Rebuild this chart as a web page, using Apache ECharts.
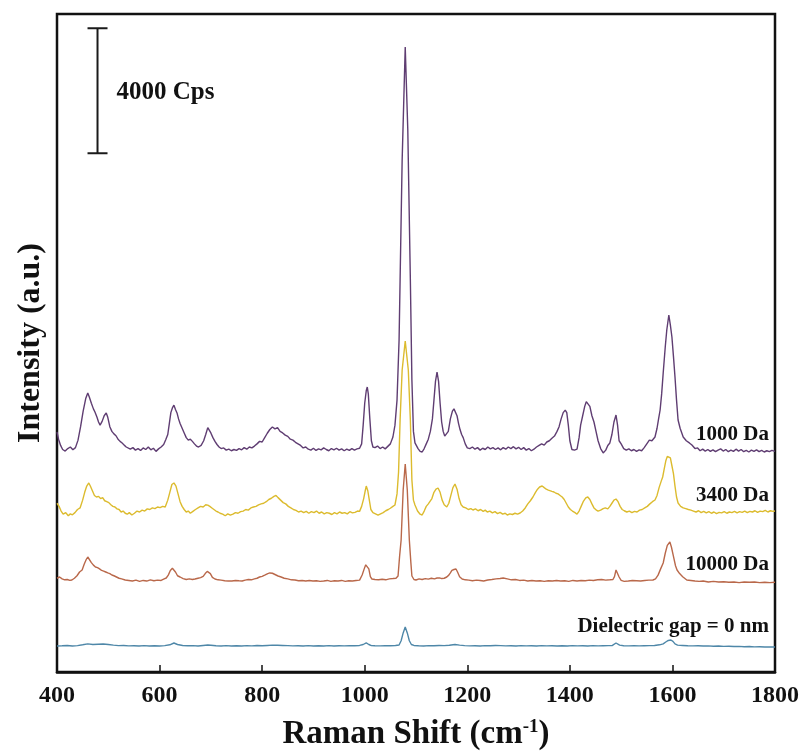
<!DOCTYPE html>
<html>
<head>
<meta charset="utf-8">
<script src="https://cdn.jsdelivr.net/npm/echarts@6/dist/echarts.min.js"></script>
<style>html,body{margin:0;padding:0;background:#fff}#c{width:801px;height:752px}</style>
</head>
<body>
<div id="c"></div>
<script>
// ---- data (x: Raman shift / cm-1, y: intensity / cps, stacked offsets included as read) ----
var xTicks = [400, 600, 800, 1000, 1200, 1400, 1600, 1800];
var seriesNames = ['1000 Da', '3400 Da', '10000 Da', 'Dielectric gap = 0 nm'];
var scaleBar = [[479, 16600, 20600]]; // 4000 Cps bar
var scaleBarLabel = '4000 Cps';

var da1000 = [[400,7680],[403,7450],[407,7250],[411,7120],[416,7070],[421,7150],[426,7200],[431,7110],[436,7180],[441,7420],[446,7850],[451,8350],[456,8750],[460,8930],[463,8800],[467,8600],[471,8420],[474,8320],[478,8150],[481,8000],[484,7900],[488,8020],[492,8200],[496,8290],[499,8150],[503,7850],[507,7700],[511,7620],[515,7560],[519,7450],[523,7380],[527,7330],[531,7260],[535,7200],[538,7170],[543,7130],[548,7180],[553,7100],[558,7150],[563,7090],[568,7170],[573,7120],[578,7200],[583,7110],[588,7160],[593,7060],[598,7140],[603,7200],[608,7280],[612,7430],[616,7600],[619,7950],[622,8300],[625,8450],[628,8540],[631,8400],[634,8290],[637,8100],[640,7950],[644,7800],[648,7650],[652,7500],[656,7420],[660,7450],[664,7380],[668,7300],[672,7230],[676,7200],[681,7250],[686,7400],[690,7600],[694,7820],[697,7840],[700,7650],[704,7500],[708,7380],[712,7280],[716,7200],[720,7150],[725,7170],[730,7100],[735,7130],[740,7080],[745,7120],[750,7090],[755,7150],[760,7110],[765,7180],[770,7130],[775,7200],[780,7170],[785,7230],[790,7300],[795,7380],[800,7360],[805,7500],[810,7640],[815,7760],[820,7840],[825,7780],[830,7820],[835,7700],[840,7650],[845,7580],[850,7540],[855,7450],[860,7420],[865,7350],[870,7300],[875,7250],[880,7170],[885,7200],[890,7130],[895,7100],[900,7160],[905,7090],[910,7140],[915,7110],[920,7170],[925,7120],[930,7080],[935,7150],[940,7110],[945,7160],[950,7100],[955,7140],[960,7080],[965,7130],[970,7090],[975,7150],[980,7100],[985,7140],[990,7160],[994,7300],[997,7900],[1000,8600],[1003,9000],[1005,9120],[1007,8900],[1010,8100],[1013,7400],[1016,7200],[1020,7180],[1025,7230],[1030,7150],[1035,7200],[1040,7140],[1045,7220],[1050,7300],[1055,7520],[1059,7900],[1063,8700],[1067,10624],[1069,12544],[1073,16384],[1079,20000],[1084,17344],[1089,12544],[1092,9344],[1095,7700],[1098,7330],[1104,7150],[1108,7060],[1112,7040],[1116,7150],[1120,7300],[1124,7450],[1128,7700],[1132,8100],[1135,8700],[1138,9300],[1141,9600],[1144,9300],[1147,8600],[1150,8000],[1153,7700],[1156,7550],[1159,7520],[1163,7700],[1167,8100],[1171,8350],[1174,8420],[1177,8380],[1180,8200],[1183,7950],[1186,7750],[1189,7600],[1192,7500],[1196,7300],[1200,7170],[1205,7150],[1210,7200],[1215,7130],[1220,7180],[1225,7100],[1230,7160],[1235,7120],[1240,7200],[1245,7140],[1250,7180],[1255,7120],[1260,7170],[1265,7110],[1270,7180],[1275,7130],[1280,7200],[1285,7150],[1290,7210],[1295,7140],[1300,7190],[1305,7120],[1310,7180],[1315,7100],[1320,7150],[1325,7080],[1330,7130],[1335,7200],[1340,7250],[1345,7300],[1350,7260],[1355,7360],[1360,7400],[1365,7480],[1370,7550],[1375,7700],[1379,7850],[1383,8100],[1387,8300],[1391,8380],[1394,8300],[1397,7900],[1400,7400],[1404,7120],[1409,7100],[1414,7130],[1418,7500],[1421,7900],[1425,8200],[1429,8500],[1432,8650],[1435,8700],[1439,8500],[1443,8200],[1447,8000],[1451,7700],[1455,7400],[1460,7150],[1465,7010],[1470,7100],[1474,7250],[1478,7330],[1482,7600],[1486,8000],[1490,8224],[1493,7900],[1496,7400],[1500,7300],[1505,7150],[1510,7100],[1515,7140],[1520,7080],[1525,7120],[1530,7060],[1535,7110],[1540,7080],[1545,7180],[1550,7300],[1555,7420],[1560,7400],[1566,7520],[1570,7800],[1573,8100],[1576,8384],[1579,8900],[1582,9568],[1586,10400],[1589,10944],[1593,11424],[1596,11100],[1599,10720],[1602,10100],[1605,9440],[1608,8700],[1611,8064],[1615,7800],[1621,7520],[1627,7400],[1633,7330],[1638,7264],[1644,7150],[1649,7170],[1654,7080],[1659,7130],[1664,7070],[1669,7120],[1674,7060],[1679,7110],[1684,7050],[1689,7100],[1694,7140],[1699,7070],[1704,7120],[1709,7050],[1714,7100],[1719,7060],[1724,7130],[1729,7070],[1734,7120],[1739,7050],[1744,7090],[1749,7040],[1754,7100],[1759,7060],[1764,7110],[1769,7050],[1774,7090],[1779,7040],[1784,7080],[1789,7050],[1794,7090],[1800,7060]];

var da3400 = [[400,5400],[404,5300],[408,5150],[412,5050],[417,5100],[422,5000],[426,5060],[430,5030],[435,5100],[440,5200],[445,5250],[450,5500],[454,5750],[458,5950],[462,6050],[465,5950],[469,5800],[473,5650],[477,5600],[481,5620],[485,5550],[489,5580],[493,5480],[497,5450],[501,5420],[505,5350],[509,5300],[513,5280],[517,5220],[521,5200],[525,5120],[529,5150],[533,5080],[537,5050],[541,5100],[546,5024],[551,5080],[556,5150],[561,5120],[566,5180],[571,5150],[576,5220],[581,5200],[586,5250],[591,5230],[596,5280],[601,5260],[606,5300],[611,5280],[616,5500],[620,5750],[624,6000],[628,6050],[632,5950],[636,5700],[640,5450],[644,5300],[648,5200],[652,5120],[656,5150],[660,5080],[665,5140],[670,5200],[675,5250],[680,5300],[685,5280],[690,5350],[694,5340],[698,5300],[702,5250],[706,5200],[710,5150],[714,5120],[718,5080],[723,5050],[728,5000],[733,5060],[738,5020],[743,5050],[748,5100],[753,5080],[758,5130],[763,5150],[768,5200],[773,5180],[778,5250],[783,5280],[788,5300],[793,5350],[798,5380],[803,5400],[808,5450],[813,5520],[818,5560],[823,5620],[827,5650],[831,5580],[836,5500],[841,5420],[846,5380],[851,5300],[856,5250],[861,5200],[866,5170],[871,5120],[876,5150],[881,5100],[886,5140],[891,5080],[896,5130],[901,5100],[906,5150],[911,5080],[916,5120],[921,5060],[926,5100],[931,5080],[936,5040],[941,5100],[946,5060],[951,5120],[956,5080],[961,5100],[966,5060],[971,5130],[976,5090],[981,5110],[986,5150],[990,5140],[994,5300],[998,5550],[1001,5800],[1003,5950],[1006,5800],[1009,5500],[1012,5200],[1016,5100],[1021,5060],[1026,5020],[1031,5060],[1036,5100],[1041,5160],[1046,5200],[1050,5240],[1055,5300],[1059,5344],[1063,5700],[1066,6400],[1069,8064],[1073,9664],[1079,10592],[1085,9664],[1089,8064],[1092,6144],[1095,5500],[1098,5344],[1103,5150],[1108,5050],[1112,5024],[1116,5150],[1120,5300],[1124,5380],[1127,5408],[1131,5550],[1135,5750],[1139,5850],[1143,5888],[1147,5750],[1151,5500],[1155,5350],[1160,5280],[1164,5400],[1168,5650],[1172,5900],[1176,6016],[1180,5850],[1184,5550],[1188,5350],[1192,5280],[1197,5250],[1202,5200],[1207,5230],[1211,5184],[1216,5220],[1221,5160],[1226,5200],[1231,5140],[1235,5180],[1239,5120],[1244,5150],[1249,5090],[1254,5130],[1259,5070],[1264,5110],[1269,5050],[1274,5080],[1278,5024],[1283,5060],[1288,5040],[1293,5080],[1298,5050],[1303,5088],[1308,5150],[1313,5250],[1318,5380],[1323,5480],[1328,5600],[1333,5750],[1337,5850],[1341,5920],[1346,5952],[1350,5900],[1354,5850],[1358,5820],[1361,5824],[1365,5780],[1369,5760],[1373,5720],[1377,5700],[1381,5650],[1385,5600],[1389,5520],[1393,5400],[1397,5280],[1401,5200],[1405,5150],[1410,5100],[1414,5050],[1418,5150],[1422,5300],[1426,5450],[1431,5570],[1435,5600],[1439,5520],[1443,5380],[1447,5250],[1451,5190],[1455,5150],[1460,5180],[1465,5230],[1469,5250],[1474,5220],[1478,5300],[1482,5400],[1486,5500],[1490,5536],[1494,5450],[1498,5300],[1502,5200],[1506,5160],[1511,5120],[1516,5150],[1521,5100],[1526,5140],[1531,5120],[1536,5180],[1541,5200],[1546,5250],[1551,5300],[1556,5380],[1561,5450],[1566,5504],[1570,5650],[1574,5900],[1578,6100],[1581,6240],[1584,6500],[1587,6750],[1590,6900],[1593,6944],[1596,6850],[1599,6600],[1602,6350],[1605,5950],[1608,5600],[1611,5408],[1616,5300],[1621,5250],[1626,5230],[1631,5200],[1636,5180],[1641,5150],[1646,5120],[1651,5160],[1656,5100],[1661,5140],[1666,5090],[1671,5130],[1676,5080],[1681,5120],[1686,5070],[1691,5110],[1696,5090],[1701,5130],[1706,5080],[1711,5120],[1716,5100],[1721,5140],[1726,5090],[1731,5130],[1736,5110],[1741,5150],[1746,5100],[1751,5140],[1756,5120],[1761,5160],[1766,5110],[1771,5150],[1776,5130],[1781,5170],[1786,5120],[1791,5160],[1796,5140],[1800,5150]];

var da10000 = [[400,3000],[405,3040],[410,2980],[415,2950],[420,2960],[425,2930],[429,2944],[434,3000],[439,3080],[444,3200],[449,3264],[453,3450],[457,3600],[460,3680],[463,3620],[467,3500],[471,3420],[475,3360],[479,3340],[483,3300],[487,3250],[491,3230],[495,3200],[499,3170],[503,3150],[507,3104],[511,3080],[516,3040],[521,3000],[526,2980],[533,2944],[540,2930],[547,2912],[554,2940],[561,2900],[568,2930],[575,2910],[582,2950],[589,2920],[596,2940],[603,2930],[609,2980],[613,3008],[617,3100],[621,3250],[625,3320],[628,3330],[631,3200],[635,3080],[640,3040],[646,2990],[652,2960],[658,2980],[664,2960],[669,2976],[675,3000],[680,3020],[685,3060],[689,3150],[693,3220],[696,3240],[699,3150],[703,3030],[708,2976],[714,2950],[720,2940],[727,2920],[734,2910],[741,2912],[748,2930],[755,2920],[761,2912],[767,2940],[773,2960],[779,2950],[785,2980],[790,3000],[795,3040],[800,3060],[805,3100],[811,3150],[815,3170],[820,3160],[825,3120],[831,3072],[837,3040],[843,3000],[850,2980],[857,2950],[864,2944],[871,2920],[878,2930],[885,2912],[892,2930],[899,2910],[906,2920],[913,2900],[920,2912],[927,2930],[934,2900],[941,2920],[948,2910],[955,2930],[962,2900],[969,2920],[976,2912],[983,2930],[990,2940],[995,3104],[999,3300],[1002,3430],[1005,3488],[1008,3300],[1011,3050],[1014,2976],[1020,2960],[1027,2950],[1034,2970],[1041,2950],[1048,2980],[1055,2990],[1061,3000],[1065,3072],[1068,3700],[1071,4224],[1075,5824],[1079,6656],[1083,5824],[1087,4224],[1090,3500],[1092,3072],[1096,2960],[1100,2944],[1106,2980],[1112,2960],[1118,2990],[1124,2970],[1130,3000],[1136,2980],[1141,3008],[1146,3010],[1150,2990],[1155,3000],[1160,3040],[1164,3100],[1167,3170],[1170,3250],[1174,3280],[1178,3296],[1181,3200],[1185,3050],[1190,2976],[1196,2950],[1203,2940],[1210,2920],[1218,2940],[1225,2930],[1232,2912],[1240,2944],[1248,2960],[1256,2980],[1264,2990],[1270,3008],[1278,2980],[1286,2950],[1294,2960],[1302,2930],[1310,2940],[1318,2912],[1326,2930],[1334,2912],[1342,2920],[1350,2900],[1358,2920],[1366,2910],[1374,2930],[1382,2912],[1390,2920],[1398,2900],[1406,2930],[1414,2912],[1422,2930],[1430,2920],[1438,2940],[1446,2930],[1454,2950],[1462,2960],[1470,2940],[1478,2950],[1484,2960],[1487,3050],[1490,3264],[1493,3200],[1496,3040],[1500,2930],[1506,2900],[1514,2912],[1522,2930],[1530,2920],[1538,2910],[1546,2930],[1554,2940],[1562,2944],[1567,2980],[1572,3100],[1577,3300],[1582,3488],[1586,3800],[1590,4050],[1595,4160],[1598,4000],[1602,3700],[1606,3400],[1609,3264],[1614,3150],[1620,3050],[1628,2944],[1636,2930],[1644,2912],[1652,2900],[1660,2912],[1670,2880],[1680,2900],[1690,2880],[1700,2890],[1710,2870],[1720,2880],[1730,2860],[1740,2880],[1750,2870],[1760,2880],[1770,2860],[1780,2870],[1790,2860],[1800,2870]];

var gap0 = [[400,832],[410,840],[420,850],[430,830],[440,845],[450,870],[460,900],[470,880],[480,890],[490,896],[500,880],[510,860],[520,845],[530,850],[540,835],[550,840],[560,830],[570,845],[580,830],[590,840],[600,832],[610,845],[620,870],[628,928],[635,880],[645,850],[655,840],[665,845],[675,830],[685,850],[694,864],[700,855],[710,840],[720,832],[730,845],[740,830],[750,840],[760,830],[770,845],[780,835],[790,850],[800,840],[810,850],[820,860],[830,855],[840,850],[850,845],[860,835],[870,840],[880,830],[890,845],[900,830],[910,840],[920,832],[930,845],[940,830],[950,840],[960,835],[970,845],[980,840],[990,850],[997,880],[1003,930],[1008,880],[1013,845],[1020,840],[1030,835],[1040,845],[1050,840],[1060,850],[1067,864],[1071,1000],[1075,1250],[1079,1440],[1083,1250],[1087,1000],[1091,880],[1096,850],[1105,840],[1115,832],[1125,845],[1135,840],[1145,850],[1155,845],[1165,855],[1176,880],[1185,860],[1195,845],[1205,835],[1215,840],[1225,830],[1235,845],[1245,840],[1255,850],[1265,845],[1275,835],[1285,840],[1295,830],[1305,845],[1315,835],[1325,840],[1335,830],[1345,845],[1355,835],[1365,840],[1375,830],[1385,840],[1395,830],[1405,845],[1415,835],[1425,840],[1435,830],[1445,845],[1455,835],[1465,840],[1475,845],[1483,850],[1490,928],[1497,860],[1505,840],[1515,835],[1525,845],[1535,835],[1545,840],[1555,845],[1565,850],[1575,870],[1582,900],[1587,960],[1592,1010],[1597,1024],[1601,980],[1605,900],[1610,860],[1620,850],[1630,840],[1640,835],[1650,840],[1660,830],[1670,835],[1680,825],[1690,830],[1700,820],[1710,825],[1720,815],[1730,820],[1740,810],[1750,815],[1760,805],[1770,810],[1780,800],[1790,805],[1800,800]];

var seriesData = [da1000, da3400, da10000, gap0];
var colors = ['#5f3d72', '#dcbb2e', '#b9684a', '#4e87a8'];

var FONT = '"Liberation Serif", "Times New Roman", serif';
var chart = echarts.init(document.getElementById('c'), null, {renderer: 'canvas'});

var series = seriesData.map(function (d, i) {
  return {
    name: seriesNames[i], type: 'line', data: d, showSymbol: false, symbol: 'none',
    lineStyle: {color: colors[i], width: 1.4}, z: 3 + (3 - i)
  };
});
series.push({
  type: 'custom', data: scaleBar, z: 10,
  renderItem: function (params, api) {
    var p1 = api.coord([api.value(0), api.value(1)]);
    var p2 = api.coord([api.value(0), api.value(2)]);
    var st = {stroke: '#1a1a1a', lineWidth: 2};
    return {type: 'group', children: [
      {type: 'line', shape: {x1: p1[0], y1: p1[1], x2: p2[0], y2: p2[1]}, style: st},
      {type: 'line', shape: {x1: p1[0] - 10, y1: p1[1], x2: p1[0] + 10, y2: p1[1]}, style: st},
      {type: 'line', shape: {x1: p2[0] - 10, y1: p2[1], x2: p2[0] + 10, y2: p2[1]}, style: st},
      {type: 'text', x: p1[0] + 19, y: (p1[1] + p2[1]) / 2 + 2,
       style: {text: scaleBarLabel, fill: '#111', font: 'bold 25px ' + FONT, verticalAlign: 'middle', align: 'left'}}
    ]};
  }
});

var labelY = [433, 494, 563, 625];
var graphics = seriesNames.map(function (n, i) {
  return {type: 'text', right: 801 - 769, top: labelY[i] - 9, z: 20,
    style: {text: n, fill: '#111', font: 'bold 21px ' + FONT}};
});

chart.setOption({
  animation: false,
  backgroundColor: '#ffffff',
  grid: {left: 57, right: 26, top: 14, bottom: 80, show: true, borderColor: '#111', borderWidth: 2.5,
    backgroundColor: 'transparent', outerBoundsMode: 'none', containLabel: false},
  xAxis: {
    type: 'value', min: xTicks[0], max: xTicks[xTicks.length - 1], interval: 200,
    axisLine: {show: true, lineStyle: {color: '#111', width: 2.5}},
    axisTick: {show: true, inside: true, length: 7, lineStyle: {color: '#111', width: 1.5}},
    axisLabel: {color: '#111', fontFamily: FONT, fontWeight: 'bold', fontSize: 24, margin: 12,
      formatter: function (v) { return String(v); }},
    splitLine: {show: false},
    name: 'Raman Shift (cm{sup|-1})', nameLocation: 'middle', nameGap: 46,
    nameTextStyle: {color: '#111', fontFamily: FONT, fontWeight: 'bold', fontSize: 33,
      rich: {sup: {fontFamily: FONT, fontWeight: 'bold', fontSize: 19, color: '#111', verticalAlign: 'top', lineHeight: 20}}}
  },
  yAxis: {
    type: 'value', min: 0, max: 21056,
    axisLine: {show: false}, axisTick: {show: false}, axisLabel: {show: false}, splitLine: {show: false},
    name: 'Intensity (a.u.)', nameLocation: 'middle', nameGap: 10,
    nameTextStyle: {color: '#111', fontFamily: FONT, fontWeight: 'bold', fontSize: 32}
  },
  graphic: graphics,
  series: series
});
</script>
</body>
</html>
